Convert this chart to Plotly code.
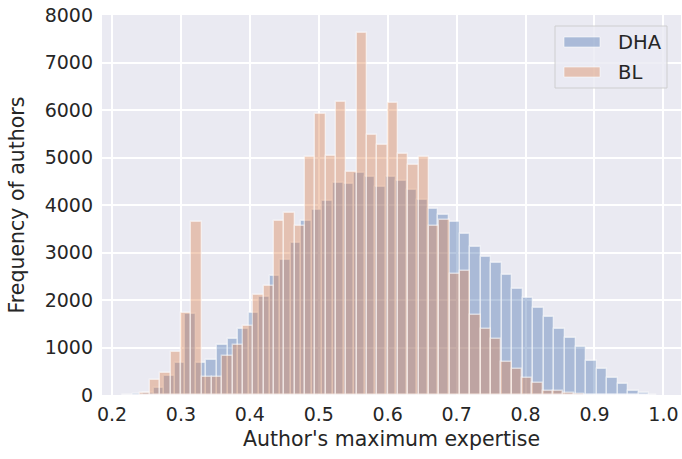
import numpy as np
import plotly.graph_objects as go

# Histogram bin definitions (each series binned over its own range, 50 bins)
dha_bin_start = 0.2146
dha_bin_width = 0.0153
bl_bin_start = 0.240
bl_bin_width = 0.0150

# Frequency of authors per bin
dha_counts = [5, 15, 50, 150, 400, 680, 1700, 680, 740, 1055,
              1180, 1385, 1720, 2055, 2515, 2845, 3200, 3655, 3885, 4085,
              4470, 4445, 4680, 4590, 4380, 4600, 4515, 4325, 4105, 3910,
              3800, 3650, 3390, 3110, 2910, 2780, 2530, 2235, 2040, 1835,
              1640, 1380, 1210, 1005, 725, 550, 365, 225, 90, 35]
bl_counts = [40, 320, 460, 910, 1730, 3640, 370, 370, 823, 1050,
             1460, 2100, 2290, 3665, 3825, 3555, 5015, 5915, 5040, 6175,
             4695, 7630, 5478, 5265, 6150, 5070, 4840, 5010, 3550, 3690,
             2550, 2612, 1685, 1400, 1175, 690, 545, 365, 245, 85,
             85, 50, 20, 10, 5, 3, 2, 1, 0, 1]

series_names = ["DHA", "BL"]
series_colors = ["rgba(76,114,176,0.4)", "rgba(221,132,82,0.4)"]

x_ticks = [0.2, 0.3, 0.4, 0.5, 0.6, 0.7, 0.8, 0.9, 1.0]
y_ticks = [0, 1000, 2000, 3000, 4000, 5000, 6000, 7000, 8000]

def centers(start, width, n):
    return start + width * (np.arange(n) + 0.5)

fig = go.Figure()
for name, color, start, width, counts in [
    (series_names[0], series_colors[0], dha_bin_start, dha_bin_width, dha_counts),
    (series_names[1], series_colors[1], bl_bin_start, bl_bin_width, bl_counts),
]:
    fig.add_trace(go.Bar(
        x=centers(start, width, len(counts)),
        y=counts,
        width=width,
        name=name,
        marker=dict(color=color, line=dict(color="rgba(255,255,255,0.55)", width=1.4)),
        showlegend=False,
    ))

font_family = "DejaVu Sans, Verdana, sans-serif"
text_color = "#262626"

fig.update_layout(
    width=682, height=459,
    margin=dict(l=102, r=1, t=15, b=64),
    paper_bgcolor="white",
    plot_bgcolor="#EAEAF2",
    barmode="overlay",
    bargap=0,
    font=dict(family=font_family, size=19, color=text_color),
    xaxis=dict(
        range=[0.1855, 1.0255],
        tickmode="array", tickvals=x_ticks,
        ticktext=[f"{v:.1f}" for v in x_ticks],
        showgrid=True, gridcolor="white", gridwidth=1.8,
        zeroline=False, showline=False, ticks="",
        automargin=False,
        ticklabelstandoff=6,
        tickfont=dict(size=19, color=text_color),
        title=dict(text="Author's maximum expertise", font=dict(size=20.5), standoff=7),
    ),
    yaxis=dict(
        range=[0, 8000],
        tickmode="array", tickvals=y_ticks,
        ticktext=[str(v) for v in y_ticks],
        showgrid=True, gridcolor="white", gridwidth=1.8,
        zeroline=False, showline=False, ticks="",
        automargin=False,
        tickfont=dict(size=19, color=text_color),
        ticklabelstandoff=8,
        title=dict(text="Frequency of authors", font=dict(size=20.5), standoff=14),
    ),
)

# Custom legend (matplotlib style) in paper coordinates
px_w = 682 - 102 - 1
px_h = 459 - 15 - 64
def px(x):
    return (x - 102) / px_w
def py(y):
    return (395 - y) / px_h

fig.add_shape(type="rect", xref="paper", yref="paper",
              x0=px(555), x1=px(667), y0=py(88), y1=py(26),
              fillcolor="rgba(234,234,242,0.8)",
              line=dict(color="rgba(204,204,204,0.9)", width=1), layer="above")
for i, (name, color) in enumerate(zip(series_names, series_colors)):
    yc = 42 + 30 * i
    fig.add_shape(type="rect", xref="paper", yref="paper",
                  x0=px(564), x1=px(600), y0=py(yc + 5), y1=py(yc - 5),
                  fillcolor=color, line=dict(color="rgba(255,255,255,0.55)", width=1),
                  layer="above")
    fig.add_annotation(xref="paper", yref="paper", x=px(616), y=py(yc),
                       text=name, showarrow=False, xanchor="left", yanchor="middle",
                       font=dict(size=19.5, color=text_color, family=font_family))

fig.write_html("out.html", config={"displayModeBar": False},
               post_script="document.body.style.margin='0';document.body.style.overflow='hidden';")
